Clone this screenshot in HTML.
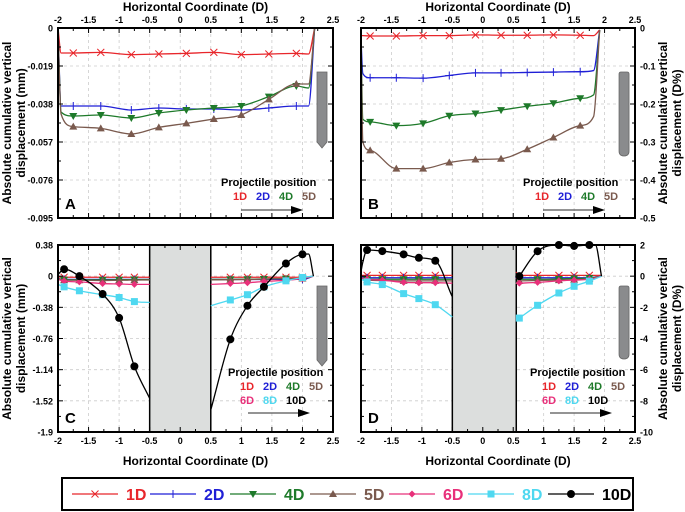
<!DOCTYPE html>
<html><head><meta charset="utf-8"><style>
html,body{margin:0;padding:0;background:#fff}
svg{display:block;font-family:"Liberation Sans",Arial,sans-serif}
</style></head><body>
<svg id="s" width="685" height="512" viewBox="0 0 685 512"></svg>
<script>
// ===== DATA =====
const xTicks=[-2,-1.5,-1,-0.5,0,0.5,1,1.5,2,2.5];
const xTickLabels=['-2','-1.5','-1','-0.5','0','0.5','1','1.5','2','2.5'];
const aYTicks=[0,-0.019,-0.038,-0.057,-0.076,-0.095];
const bYTicks=[0,-0.1,-0.2,-0.3,-0.4,-0.5];
const cYTicks=[0.38,0,-0.38,-0.76,-1.14,-1.52,-1.9];
const dYTicks=[2,0,-2,-4,-6,-8,-10];
// Panel A (mm)
const aX=[-2,-1.95,-1.75,-1.3,-0.8,-0.35,0.1,0.55,1,1.45,1.9,2.1,2.2];
const aMark=[-1.75,-1.3,-0.8,-0.35,0.1,0.55,1,1.45,1.9];
const a1D=[0,-0.0125,-0.0125,-0.0122,-0.0133,-0.013,-0.0127,-0.0122,-0.0133,-0.013,-0.0127,-0.013,0];
const a2D=[0,-0.039,-0.039,-0.039,-0.041,-0.040,-0.0405,-0.0405,-0.041,-0.040,-0.039,-0.039,0];
const a4D=[0,-0.042,-0.044,-0.0435,-0.045,-0.0425,-0.041,-0.040,-0.039,-0.0343,-0.029,-0.030,0];
const a5D=[0,-0.043,-0.0493,-0.0502,-0.053,-0.0497,-0.0477,-0.0455,-0.0435,-0.0357,-0.028,-0.028,0];
// Panel B (D%)
const bX=[-2,-1.97,-1.85,-1.42,-0.98,-0.55,-0.12,0.3,0.73,1.16,1.6,1.82,1.92];
const bMark=[-1.85,-1.42,-0.98,-0.55,-0.12,0.3,0.73,1.16,1.6];
const b1D=[-0.02,-0.02,-0.021,-0.021,-0.02,-0.02,-0.018,-0.019,-0.019,-0.018,-0.019,-0.02,-0.005];
const b2D=[-0.03,-0.12,-0.131,-0.131,-0.132,-0.125,-0.118,-0.118,-0.117,-0.116,-0.115,-0.112,-0.005];
const b4D=[-0.03,-0.24,-0.247,-0.257,-0.251,-0.231,-0.225,-0.216,-0.206,-0.198,-0.185,-0.176,-0.005];
const b5D=[-0.03,-0.30,-0.322,-0.370,-0.370,-0.354,-0.346,-0.344,-0.319,-0.288,-0.257,-0.233,-0.005];
// Panel C (mm)
const cLX=[-2,-1.9,-1.65,-1.27,-1.0,-0.75,-0.5];
const cRX=[0.5,0.82,1.1,1.37,1.73,2.0,2.18];
const cMark=[-1.9,-1.65,-1.27,-1.0,-0.75,0.82,1.1,1.37,1.73,2.0];
const cL1D=[-0.01,-0.013,-0.013,-0.013,-0.013,-0.013,-0.013];
const cR1D=[-0.013,-0.013,-0.013,-0.013,-0.013,-0.013,0];
const cL2D=[-0.03,-0.039,-0.039,-0.04,-0.04,-0.04,-0.04];
const cR2D=[-0.04,-0.04,-0.04,-0.04,-0.039,-0.039,0];
const cL4D=[-0.03,-0.044,-0.044,-0.045,-0.043,-0.042,-0.041];
const cR4D=[-0.04,-0.039,-0.037,-0.034,-0.03,-0.029,0];
const cL5D=[-0.03,-0.049,-0.050,-0.053,-0.05,-0.048,-0.046];
const cR5D=[-0.045,-0.043,-0.04,-0.036,-0.03,-0.028,0];
const cL6D=[-0.04,-0.06,-0.07,-0.09,-0.095,-0.1,-0.1];
const cR6D=[-0.1,-0.09,-0.08,-0.065,-0.05,-0.03,0];
const cL8D=[-0.1,-0.13,-0.178,-0.226,-0.26,-0.31,-0.32];
const cR8D=[-0.36,-0.29,-0.226,-0.13,-0.057,-0.016,0];
const cL10DX=[-2,-1.9,-1.65,-1.27,-1.0,-0.75,-0.5];
const cL10D=[0.02,0.085,0,-0.218,-0.509,-1.10,-1.49];
const cR10DX=[0.5,0.82,1.1,1.37,1.73,2.0,2.1,2.18];
const cR10D=[-1.63,-0.77,-0.36,-0.13,0.154,0.267,0.27,0];
// Panel D (D%)
const dLX=[-2,-1.9,-1.65,-1.3,-1.05,-0.78,-0.5];
const dRX=[0.6,0.9,1.25,1.5,1.75,1.95];
const dMark=[-1.9,-1.65,-1.3,-1.05,-0.78,0.6,0.9,1.25,1.5,1.75];
const dL1D=[0.05,0.05,0.05,0.05,0.05,0.05,0.05];
const dR1D=[0.05,0.05,0.05,0.05,0.05,0.05];
const dL2D=[-0.05,-0.1,-0.1,-0.1,-0.1,-0.1,-0.1];
const dR2D=[-0.1,-0.1,-0.1,-0.1,-0.1,0];
const dL4D=[-0.1,-0.2,-0.2,-0.2,-0.2,-0.2,-0.2];
const dR4D=[-0.2,-0.2,-0.18,-0.15,-0.12,0];
const dL5D=[-0.1,-0.25,-0.28,-0.3,-0.3,-0.3,-0.3];
const dR5D=[-0.3,-0.28,-0.25,-0.22,-0.18,0];
const dL6D=[-0.1,-0.2,-0.25,-0.4,-0.42,-0.42,-0.45];
const dR6D=[-0.45,-0.4,-0.3,-0.25,-0.2,0];
const dL8D=[-0.2,-0.37,-0.54,-1.12,-1.44,-1.83,-2.62];
const dR8D=[-2.69,-1.87,-1.08,-0.65,-0.32,0];
const dL10DX=[-2,-1.97,-1.9,-1.65,-1.3,-1.05,-0.78,-0.5];
const dL10D=[0.3,0.9,1.68,1.61,1.40,1.18,0.99,-1.33];
const dR10DX=[0.6,0.9,1.25,1.5,1.75,1.85,1.95];
const dR10D=[0,1.6,2.0,1.94,2.0,2.0,0];

// ===== RENDER =====
const S=document.getElementById('s');const NS='http://www.w3.org/2000/svg';
function el(t,a,p){const e=document.createElementNS(NS,t);for(const k in a)e.setAttribute(k,a[k]);(p||S).appendChild(e);return e;}
const COL={'1D':'#e8262b','2D':'#1f1fd6','4D':'#1e7a2a','5D':'#7a5a4e','6D':'#e8307a','8D':'#4fd8f0','10D':'#000'};
function marker(g,type,x,y,c){
  if(type==='1D'){el('path',{d:`M${x-3.5},${y-3.5}L${x+3.5},${y+3.5}M${x-3.5},${y+3.5}L${x+3.5},${y-3.5}`,stroke:c,'stroke-width':1,fill:'none'},g);}
  else if(type==='2D'){el('path',{d:`M${x-4},${y}L${x+4},${y}M${x},${y-4}L${x},${y+4}`,stroke:c,'stroke-width':1},g);}
  else if(type==='4D'){el('path',{d:`M${x-4},${y-3}L${x+4},${y-3}L${x},${y+4}Z`,fill:c},g);}
  else if(type==='5D'){el('path',{d:`M${x-4},${y+3}L${x+4},${y+3}L${x},${y-4}Z`,fill:c},g);}
  else if(type==='6D'){el('path',{d:`M${x},${y-3.5}L${x+3.5},${y}L${x},${y+3.5}L${x-3.5},${y}Z`,fill:c},g);}
  else if(type==='8D'){el('rect',{x:x-3.5,y:y-3.5,width:7,height:7,fill:c},g);}
  else {el('circle',{cx:x,cy:y,r:4,fill:c},g);}
}
function mono(P){
  const n=P.length;if(n<2)return'';
  const d=[],m=[];
  for(let i=0;i<n-1;i++)d.push((P[i+1][1]-P[i][1])/(P[i+1][0]-P[i][0]));
  m[0]=d[0];m[n-1]=d[n-2];
  for(let i=1;i<n-1;i++)m[i]=(d[i-1]*d[i]<=0)?0:(d[i-1]+d[i])/2;
  for(let i=0;i<n-1;i++){if(d[i]===0){m[i]=0;m[i+1]=0;continue;}const a=m[i]/d[i],b=m[i+1]/d[i],s=a*a+b*b;if(s>9){const t=3/Math.sqrt(s);m[i]=t*a*d[i];m[i+1]=t*b*d[i];}}
  let s=`M${P[0][0]},${P[0][1]}`;
  for(let i=0;i<n-1;i++){const h=(P[i+1][0]-P[i][0])/3;s+=`C${P[i][0]+h},${P[i][1]+m[i]*h} ${P[i+1][0]-h},${P[i+1][1]-m[i+1]*h} ${P[i+1][0]},${P[i+1][1]}`;}
  return s;
}
function panel(o){
  const g=el('g',{});
  const sx=v=>o.l+(v+2)/4.5*(o.r-o.l);
  const sy=v=>o.t+(o.y0-v)/(o.y0-o.y1)*(o.b-o.t);
  const gg=el('g',{},g);
  xTicks.forEach(v=>{el('line',{x1:sx(v),x2:sx(v),y1:o.t,y2:o.b,stroke:'#ccc','stroke-dasharray':'3,3','stroke-width':0.8},gg);});
  o.yt.forEach(v=>{el('line',{x1:o.l,x2:o.r,y1:sy(v),y2:sy(v),stroke:'#ccc','stroke-dasharray':'3,3','stroke-width':0.8},gg);});
  if(o.band){el('rect',{x:sx(o.band[0]),y:o.t,width:sx(o.band[1])-sx(o.band[0]),height:o.b-o.t,fill:'#dcdedd',stroke:'#000','stroke-width':1.5,},g);}
  o.series.forEach(sr=>{
    const sg=el('g',{},g);
    sr.segs.forEach(sg2=>{
      const P=sg2[0].map((x,i)=>[sx(x),sy(sg2[1][i])]);
      el('path',{d:mono(P),fill:'none',stroke:COL[sr.k],'stroke-width':1.3},sg);
      sg2[0].forEach((x,i)=>{if(o.mark.some(m=>Math.abs(m-x)<1e-9))marker(sg,sr.k,sx(x),sy(sg2[1][i]),COL[sr.k]);});
    });
  });
  xTicks.forEach(v=>{const x=sx(v);el('line',{x1:x,x2:x,y1:o.t,y2:o.t+5,stroke:'#000'},g);el('line',{x1:x,x2:x,y1:o.b,y2:o.b-5,stroke:'#000'},g);
    const xm=sx(v+0.25);if(v<2.5){el('line',{x1:xm,x2:xm,y1:o.t,y2:o.t+3,stroke:'#000'},g);el('line',{x1:xm,x2:xm,y1:o.b,y2:o.b-3,stroke:'#000'},g);}});
  o.yt.forEach((v,i)=>{const y=sy(v);el('line',{x1:o.l,x2:o.l+5,y1:y,y2:y,stroke:'#000'},g);el('line',{x1:o.r,x2:o.r-5,y1:y,y2:y,stroke:'#000'},g);
    if(i<o.yt.length-1){const ym=(y+sy(o.yt[i+1]))/2;el('line',{x1:o.l,x2:o.l+3,y1:ym,y2:ym,stroke:'#000'},g);el('line',{x1:o.r,x2:o.r-3,y1:ym,y2:ym,stroke:'#000'},g);}});
  el('rect',{x:o.l,y:o.t,width:o.r-o.l,height:o.b-o.t,fill:'none',stroke:'#000','stroke-width':2,},g);
  const xl=el('g',{},g);
  xTicks.forEach((v,i)=>{const t=el('text',{x:sx(v),y:o.xTop?o.t-5:o.b+12,'text-anchor':'middle','font-size':9,'font-weight':'bold'},xl);t.textContent=xTickLabels[i];});
  const yl=el('g',{},g);
  o.yt.forEach((v,i)=>{const t=el('text',{x:o.yRight?o.r+5:o.l-5,y:sy(v)+3.5,'text-anchor':o.yRight?'start':'end','font-size':9,'font-weight':'bold'},yl);t.textContent=o.ytl[i];});
  const xt=el('text',{x:(o.l+o.r)/2,y:o.xTop?11:465,'text-anchor':'middle','font-size':12,'font-weight':'bold',},g);xt.textContent='Horizontal Coordinate (D)';
  const cy=(o.t+o.b)/2;const ax=o.yRight?o.r+32:o.l-47;
  const yt=el('text',{transform:`translate(${ax},${cy}) rotate(-90)`,'text-anchor':'middle','font-size':12,'font-weight':'bold',},g);
  const t1=el('tspan',{x:0,dy:0},yt);t1.textContent='Absolute cumulative vertical';
  const t2=el('tspan',{x:0,dy:14},yt);t2.textContent=o.unit;
  const lt=el('text',{x:o.l+7,y:o.b-9,'font-size':15,'font-weight':'bold',},g);lt.textContent=o.letter;
  const px=sx(2.32),pt=o.t+o.pt,pb=o.t+o.pb;
  el('path',{d:o.pointy?`M${px-5},${pt}L${px+5},${pt}L${px+5},${pb}L${px},${pb+6}L${px-5},${pb}Z`:`M${px-5},${pt+2}Q${px-5},${pt} ${px-3},${pt}L${px+3},${pt}Q${px+5},${pt} ${px+5},${pt+2}L${px+5},${pb-4}Q${px+5},${pb+1} ${px},${pb+1}Q${px-5},${pb+1} ${px-5},${pb-4}Z`,fill:'#8a8b8d',stroke:'#666','stroke-width':0.8,},g);
  const lg=el('g',{},g);
  const ly=o.b-(o.many?56:32),lx=o.r-(o.many?105:112);
  const pp=el('text',{x:lx,y:ly,'font-size':11,'font-weight':'bold'},lg);pp.textContent='Projectile position';
  const keys=o.many?[['1D','2D','4D','5D'],['6D','8D','10D']]:[['1D','2D','4D','5D']];
  keys.forEach((row,ri)=>row.forEach((k,i)=>{const t=el('text',{x:lx+12+i*23,y:ly+14+ri*14,'font-size':11,'font-weight':'bold',fill:COL[k]},lg);t.textContent=k;}));
  const ay=ly+(o.many?37:24);
  el('line',{x1:lx+20,x2:lx+77,y1:ay,y2:ay,stroke:'#555','stroke-width':1.2},lg);
  el('path',{d:`M${lx+70},${ay-4}L${lx+82},${ay}L${lx+70},${ay+4}Z`,fill:'#000'},lg);
}
function seg(x,y){return [x,y];}
panel({name:'panel-a',letter:'A',l:58,r:333,t:28,b:218,y0:0,y1:-0.095,yt:aYTicks,ytl:['0','-0.019','-0.038','-0.057','-0.076','-0.095'],xTop:true,unit:'displacement (mm)',mark:aMark,pt:44,pb:114,pointy:true,
  series:[{k:'1D',segs:[seg(aX,a1D)]},{k:'2D',segs:[seg(aX,a2D)]},{k:'4D',segs:[seg(aX,a4D)]},{k:'5D',segs:[seg(aX,a5D)]}]});
panel({name:'panel-b',letter:'B',l:361,r:635,t:28,b:218,y0:0,y1:-0.5,yt:bYTicks,ytl:['0','-0.1','-0.2','-0.3','-0.4','-0.5'],xTop:true,yRight:true,unit:'displacement (D%)',mark:bMark,pt:44,pb:127,
  series:[{k:'1D',segs:[seg(bX,b1D)]},{k:'2D',segs:[seg(bX,b2D)]},{k:'4D',segs:[seg(bX,b4D)]},{k:'5D',segs:[seg(bX,b5D)]}]});
panel({name:'panel-c',letter:'C',l:58,r:333,t:245,b:432,y0:0.38,y1:-1.9,yt:cYTicks,ytl:['0.38','0','-0.38','-0.76','-1.14','-1.52','-1.9'],unit:'displacement (mm)',mark:cMark,band:[-0.5,0.5],many:true,pt:41,pb:115,pointy:true,
  series:[{k:'1D',segs:[seg(cLX,cL1D),seg(cRX,cR1D)]},{k:'2D',segs:[seg(cLX,cL2D),seg(cRX,cR2D)]},{k:'4D',segs:[seg(cLX,cL4D),seg(cRX,cR4D)]},{k:'5D',segs:[seg(cLX,cL5D),seg(cRX,cR5D)]},{k:'6D',segs:[seg(cLX,cL6D),seg(cRX,cR6D)]},{k:'8D',segs:[seg(cLX,cL8D),seg(cRX,cR8D)]},{k:'10D',segs:[seg(cL10DX,cL10D),seg(cR10DX,cR10D)]}]});
panel({name:'panel-d',letter:'D',l:361,r:635,t:245,b:432,y0:2,y1:-10,yt:dYTicks,ytl:['2','0','-2','-4','-6','-8','-10'],yRight:true,unit:'displacement (D%)',mark:dMark,band:[-0.5,0.55],many:true,pt:41,pb:113,
  series:[{k:'1D',segs:[seg(dLX,dL1D),seg(dRX,dR1D)]},{k:'2D',segs:[seg(dLX,dL2D),seg(dRX,dR2D)]},{k:'4D',segs:[seg(dLX,dL4D),seg(dRX,dR4D)]},{k:'5D',segs:[seg(dLX,dL5D),seg(dRX,dR5D)]},{k:'6D',segs:[seg(dLX,dL6D),seg(dRX,dR6D)]},{k:'8D',segs:[seg(dLX,dL8D),seg(dRX,dR8D)]},{k:'10D',segs:[seg(dL10DX,dL10D),seg(dR10DX,dR10D)]}]});
const L=el('g',{});
el('rect',{x:62,y:478,width:571,height:32,fill:'#fff',stroke:'#000','stroke-width':2},L);
const legKeys=['1D','2D','4D','5D','6D','8D','10D'];
const legX=[72,150,230,310,389,468,548];
legKeys.forEach((k,i)=>{
  const g=el('g',{},L);
  const x=legX[i],y=494;
  el('line',{x1:x,x2:x+46,y1:y,y2:y,stroke:COL[k],'stroke-width':1.2},g);
  marker(g,k,x+23,y,COL[k]);
  const t=el('text',{x:x+54,y:y+6,'font-size':16,'font-weight':'bold',fill:COL[k]},g);t.textContent=k;
});
</script>
</body></html>
